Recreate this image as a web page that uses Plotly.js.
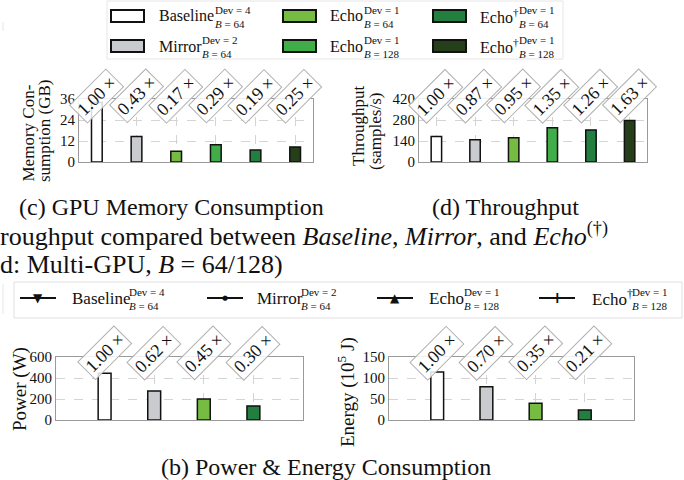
<!DOCTYPE html>
<html><head><meta charset="utf-8">
<script src="https://cdn.plot.ly/plotly-3.0.1.min.js"></script>
<style>html,body{margin:0;padding:0;background:#fff}#chart{width:684px;height:480px}</style>
</head><body><div id="chart"></div>
<script>
// ---------- data ----------
const groups6 = ['Baseline Dev=4 B=64', 'Mirror Dev=2 B=64', 'Echo Dev=1 B=64', 'Echo Dev=1 B=128', 'Echo† Dev=1 B=64', 'Echo† Dev=1 B=128'];
const memoryGB = [34, 14.6, 6.2, 9.8, 6.8, 8.6];
const memoryRatio = ['1.00', '0.43', '0.17', '0.29', '0.19', '0.25'];
const throughput = [170, 148, 161, 229, 214, 277];
const throughputRatio = ['1.00', '0.87', '0.95', '1.35', '1.26', '1.63'];
const groups4 = ['Baseline Dev=4 B=64', 'Mirror Dev=2 B=64', 'Echo Dev=1 B=128', 'Echo† Dev=1 B=128'];
const powerW = [445, 276, 200, 134];
const powerRatio = ['1.00', '0.62', '0.45', '0.30'];
const energy = [114, 79, 40, 24];
const energyRatio = ['1.00', '0.70', '0.35', '0.21'];
const memTicks = [0, 12, 24, 36];
const tputTicks = [0, 140, 280, 420];
const powerTicks = [0, 200, 400, 600];
const energyTicks = [0, 50, 100, 150];

// ---------- style ----------
const colors6 = ['#ffffff', '#c9cbce', '#76bc43', '#40ad48', '#237f3f', '#263f1b'];
const colors4 = ['#ffffff', '#c9cbce', '#76bc43', '#237f3f'];
const W = 684, H = 480;
const px = v => v / W;
const py = v => 1 - v / H;
const SERIF = "'Liberation Serif', 'Times New Roman', serif";
const barLine = {color: '#111', width: 1.5};

function xAx(d, r) {
  return {domain: d, range: r, type: 'category', showticklabels: false, ticks: '',
    showgrid: true, gridcolor: '#d4d4d4', griddash: 'dash', gridwidth: 1,
    showline: true, mirror: true, linecolor: '#9a9a9a', linewidth: 1, zeroline: false, fixedrange: true};
}
function yAx(d, r, tv) {
  return {domain: d, range: r, tickvals: tv, ticks: '', showgrid: true, gridcolor: '#d4d4d4', griddash: 'dash',
    showline: true, mirror: true, linecolor: '#9a9a9a', linewidth: 1, zeroline: false,
    tickfont: {family: SERIF, size: 15, color: '#111'}, automargin: false, fixedrange: true};
}

const traces = [
  {type: 'bar', x: groups6, y: memoryGB, xaxis: 'x', yaxis: 'y', width: 0.27, marker: {color: colors6, line: barLine}, showlegend: false},
  {type: 'bar', x: groups6, y: throughput, xaxis: 'x2', yaxis: 'y2', width: 0.27, marker: {color: colors6, line: barLine}, showlegend: false},
  {type: 'bar', x: groups4, y: powerW, xaxis: 'x3', yaxis: 'y3', width: 0.26, marker: {color: colors4, line: barLine}, showlegend: false},
  {type: 'bar', x: groups4, y: energy, xaxis: 'x4', yaxis: 'y4', width: 0.26, marker: {color: colors4, line: barLine}, showlegend: false}
];

const ann = [];
function ratioAnns(cats, ratios, xr, yr, yoff) {
  cats.forEach((c, i) => ann.push({x: c, y: 1 + yoff, xref: xr, yref: yr + ' domain', text: ratios[i] + ' ×',
    showarrow: false, textangle: -45, xanchor: 'center', yanchor: 'middle',
    font: {family: SERIF, size: 18, color: '#111'}, bordercolor: '#b0b0b0', borderwidth: 1, borderpad: 2,
    bgcolor: 'rgba(255,255,255,0.85)'}));
}
ratioAnns(groups6, memoryRatio, 'x', 'y', 0.04);
ratioAnns(groups6, throughputRatio, 'x2', 'y2', 0.04);
ratioAnns(groups4, powerRatio, 'x3', 'y3', 0.06);
ratioAnns(groups4, energyRatio, 'x4', 'y4', 0.06);

function txt(t, x, y, size, opts) {
  ann.push(Object.assign({text: t, x: px(x), y: py(y), xref: 'paper', yref: 'paper', showarrow: false,
    xanchor: 'left', yanchor: 'middle', font: {family: SERIF, size: size, color: '#111'}}, opts || {}));
}
// y-axis titles
txt('Memory Con-', 28, 184, 17, {textangle: -90, xanchor: 'center', yanchor: 'bottom'});
txt('sumption (GB)', 44, 184, 17, {textangle: -90, xanchor: 'center', yanchor: 'bottom'});
txt('Throughput', 359, 126, 17, {textangle: -90, xanchor: 'center'});
txt('(samples/s)', 375, 132, 17, {textangle: -90, xanchor: 'center'});
txt('Power (W)', 20, 389, 19, {textangle: -90, xanchor: 'center'});
txt('Energy (10<sup>5</sup> J)', 346, 392, 19, {textangle: -90, xanchor: 'center'});

// captions
txt('(c) GPU Memory Consumption', 17, 207, 24);
txt('(d) Throughput', 430, 207, 24);
txt('roughput compared between <i>Baseline</i>, <i>Mirror</i>, and <i>Echo</i><sup>(†)</sup>', -2, 234, 26);
txt('d: Multi-GPU, <i>B</i> = 64/128)', -2, 264, 26);
txt('(b) Power &amp; Energy Consumption', 326, 467, 24, {xanchor: 'center'});

// top legend (bar swatches)
const shapes = [];
shapes.push({type: 'rect', xref: 'paper', yref: 'paper', x0: px(107), x1: px(563), y0: py(1), y1: py(59),
  line: {color: '#e6e6e6', width: 1}, fillcolor: 'rgba(0,0,0,0)'});
shapes.push({type: 'line', xref: 'paper', yref: 'paper', x0: px(3), x1: px(3), y0: py(22), y1: py(31),
  line: {color: '#e6e6e6', width: 1}});
shapes.push({type: 'line', xref: 'paper', yref: 'paper', x0: px(3), x1: px(3), y0: py(284), y1: py(314),
  line: {color: '#e6e6e6', width: 1}});
const topLeg = [
  {name: 'Baseline', sup: 'Dev = 4', sub: '<i>B</i> = 64', col: 0, row: 0, sx: 213},
  {name: 'Mirror', sup: 'Dev = 2', sub: '<i>B</i> = 64', col: 0, row: 1, sx: 200},
  {name: 'Echo', sup: 'Dev = 1', sub: '<i>B</i> = 64', col: 1, row: 0, sx: 362},
  {name: 'Echo', sup: 'Dev = 1', sub: '<i>B</i> = 128', col: 1, row: 1, sx: 362},
  {name: 'Echo<sup>†</sup>', sup: 'Dev = 1', sub: '<i>B</i> = 64', col: 2, row: 0, sx: 517},
  {name: 'Echo<sup>†</sup>', sup: 'Dev = 1', sub: '<i>B</i> = 128', col: 2, row: 1, sx: 517}
];
const swX = [111, 283, 433], txX = [157, 328, 478], rowY = [16, 46];
topLeg.forEach((e, i) => {
  const yc = rowY[e.row];
  shapes.push({type: 'rect', xref: 'paper', yref: 'paper', x0: px(swX[e.col]), x1: px(swX[e.col] + 33),
    y0: py(yc + 6), y1: py(yc - 6), fillcolor: colors6[i], line: {color: '#111', width: 2}});
  txt(e.name, txX[e.col], yc, 16);
  txt(e.sup + '<br>' + e.sub, e.sx, yc + 1, 11, {align: 'left'});
});

// bottom legend (line + marker)
shapes.push({type: 'rect', xref: 'paper', yref: 'paper', x0: px(14), x1: px(682), y0: py(282), y1: py(318),
  line: {color: '#e0e0e0', width: 1}, fillcolor: 'rgba(0,0,0,0)'});
const botLeg = [
  {name: 'Baseline', sup: 'Dev = 4', sub: '<i>B</i> = 64', lx: 20, tx: 70, sx: 127, sym: '▼', ss: 12},
  {name: 'Mirror', sup: 'Dev = 2', sub: '<i>B</i> = 64', lx: 207, tx: 255, sx: 299, sym: '●', ss: 7},
  {name: 'Echo', sup: 'Dev = 1', sub: '<i>B</i> = 128', lx: 377, tx: 427, sx: 462, sym: '▲', ss: 12},
  {name: 'Echo<sup>†</sup>', sup: 'Dev = 1', sub: '<i>B</i> = 128', lx: 539, tx: 590, sx: 630, sym: '+', ss: 15}
];
botLeg.forEach(e => {
  shapes.push({type: 'line', xref: 'paper', yref: 'paper', x0: px(e.lx), x1: px(e.lx + 36), y0: py(298), y1: py(298),
    line: {color: '#111', width: 2}});
  ann.push({text: e.sym, x: px(e.lx + 18), y: py(298), xref: 'paper', yref: 'paper', showarrow: false,
    xanchor: 'center', yanchor: 'middle', font: {family: 'DejaVu Sans', size: e.ss, color: '#111', weight: 'bold'}});
  txt(e.name, e.tx, 298, 17);
  txt(e.sup + '<br>' + e.sub, e.sx, 299, 11, {align: 'left'});
});

const layout = {
  width: W, height: H, margin: {l: 0, r: 0, t: 0, b: 0}, paper_bgcolor: '#fff', plot_bgcolor: '#fff',
  showlegend: false, bargap: 0,
  xaxis: xAx([px(79), px(313)], [-0.45, 5.45]),
  yaxis: yAx([py(162), py(99)], [0, 36], memTicks),
  xaxis2: xAx([px(419), px(647)], [-0.45, 5.45]),
  yaxis2: Object.assign(yAx([py(162), py(99)], [0, 420], tputTicks), {anchor: 'x2'}),
  xaxis3: xAx([px(56), px(303)], [-0.98, 4.0]),
  yaxis3: Object.assign(yAx([py(420), py(357)], [0, 600], powerTicks), {anchor: 'x3'}),
  xaxis4: xAx([px(389), px(634)], [-0.98, 4.0]),
  yaxis4: Object.assign(yAx([py(420), py(357)], [0, 150], energyTicks), {anchor: 'x4'}),
  annotations: ann, shapes: shapes
};
layout.xaxis.anchor = 'y'; layout.xaxis2.anchor = 'y2'; layout.xaxis3.anchor = 'y3'; layout.xaxis4.anchor = 'y4';
layout.yaxis.anchor = 'x';
Plotly.newPlot('chart', traces, layout, {displayModeBar: false, staticPlot: true});
</script></body></html>
